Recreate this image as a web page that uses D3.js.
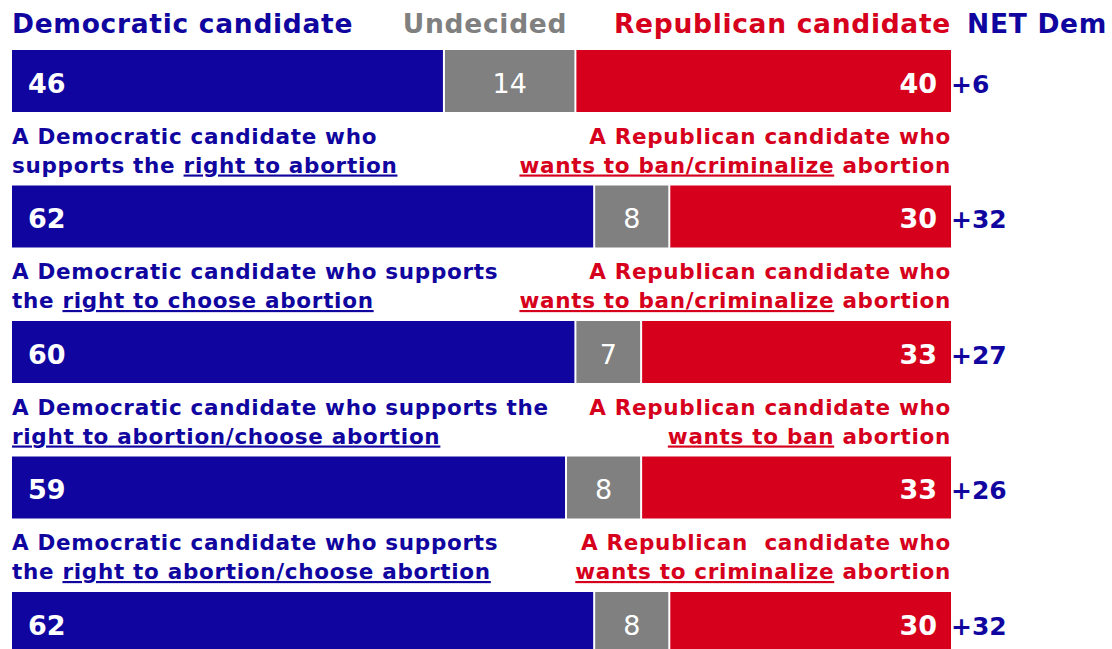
<!DOCTYPE html>
<html>
<head>
<meta charset="utf-8">
<script src="https://cdn.jsdelivr.net/npm/d3@7"></script>
<style>
  body { margin: 0; background: #fff; }
  svg { display: block; font-family: "DejaVu Sans", sans-serif; }
  text { white-space: pre; }
</style>
</head>
<body>
<svg id="chart"></svg>
<script>
const dem = [46, 62, 60, 59, 62];
const undecided = [14, 8, 7, 8, 8];
const rep = [40, 30, 33, 33, 30];
const netDem = [6, 32, 27, 26, 32];

// label lines: each line is a list of [text, underlined]
const demLabels = [
  null,
  [[["A Democratic candidate who", false]],
   [["supports the ", false], ["right to abortion", true]]],
  [[["A Democratic candidate who supports", false]],
   [["the ", false], ["right to choose abortion", true]]],
  [[["A Democratic candidate who supports the", false]],
   [["right to abortion/choose abortion", true]]],
  [[["A Democratic candidate who supports", false]],
   [["the ", false], ["right to abortion/choose abortion", true]]]
];
const repLabels = [
  null,
  [[["A Republican candidate who", false]],
   [["wants to ban/criminalize", true], [" abortion", false]]],
  [[["A Republican candidate who", false]],
   [["wants to ban/criminalize", true], [" abortion", false]]],
  [[["A Republican candidate who", false]],
   [["wants to ban", true], [" abortion", false]]],
  [[["A Republican  candidate who", false]],
   [["wants to criminalize", true], [" abortion", false]]]
];

const width = 1112, height = 649;
const blue = "#10069f", gray = "#808080", red = "#d6001c";

const svg = d3.select("#chart").attr("width", width).attr("height", height);

const x = d3.scaleLinear().domain([0, 100]).range([12, 951]);
const y = d3.scalePoint().domain(d3.range(dem.length)).range([50, 592]);
const barH = 62;

// headers
const head = svg.append("g").attr("font-weight", "bold").attr("font-size", 26.5)
  .attr("letter-spacing", 0.7);
head.append("text").attr("x", x(0)).attr("y", 33).attr("fill", blue).text("Democratic candidate");
head.append("text").attr("x", 485).attr("y", 33).attr("fill", gray)
  .attr("text-anchor", "middle").text("Undecided");
head.append("text").attr("x", x(100)).attr("y", 33).attr("fill", red)
  .attr("text-anchor", "end").text("Republican candidate");
head.append("text").attr("x", x(100) + 16).attr("y", 33).attr("fill", blue).text("NET Dem");

// stacked rows
const rows = dem.map((d, i) => {
  const segs = [
    { k: 0, start: 0, end: d, v: d, color: blue },
    { k: 1, start: d, end: d + undecided[i], v: undecided[i], color: gray },
    { k: 2, start: d + undecided[i], end: 100, v: rep[i], color: red }
  ];
  return { i, segs };
});

const row = svg.append("g").selectAll("g")
  .data(rows)
  .join("g")
  .attr("transform", d => `translate(0,${y(d.i)})`);

row.selectAll("rect")
  .data(d => d.segs)
  .join("rect")
  .attr("x", s => x(s.start) + (s.k > 0 ? 1 : 0))
  .attr("width", s => x(s.end) - x(s.start) - (s.k > 0 ? 1 : 0) - (s.k < 2 ? 1 : 0))
  .attr("y", 0)
  .attr("height", barH)
  .attr("fill", s => s.color);

row.selectAll("text.val")
  .data(d => d.segs)
  .join("text")
  .attr("class", "val")
  .attr("x", s => s.k === 0 ? x(s.start) + 16 : s.k === 1 ? (x(s.start) + x(s.end)) / 2 : x(s.end) - 14)
  .attr("y", barH / 2 + 2)
  .attr("dominant-baseline", "central")
  .attr("text-anchor", s => s.k === 0 ? "start" : s.k === 1 ? "middle" : "end")
  .attr("font-size", 27)
  .attr("font-weight", s => s.k === 1 ? "normal" : "bold")
  .attr("fill", "#fff")
  .text(s => s.v);

row.append("text")
  .attr("x", x(100))
  .attr("y", barH / 2 + 3)
  .attr("dominant-baseline", "central")
  .attr("font-size", 25)
  .attr("font-weight", "bold")
  .attr("fill", blue)
  .text(d => "+" + netDem[d.i]);

// question labels above each bar
function drawLabel(g, lines, xPos, anchor, color) {
  lines.forEach((parts, li) => {
    const t = g.append("text")
      .attr("x", xPos)
      .attr("y", li === 0 ? -42 : -13)
      .attr("text-anchor", anchor)
      .attr("font-size", 21.5)
      .attr("letter-spacing", 0.7)
      .attr("font-weight", "bold")
      .attr("fill", color);
    parts.forEach(([txt, ul]) => {
      t.append("tspan")
        .attr("text-decoration", ul ? "underline" : null)
        .text(txt);
    });
  });
}

row.each(function(d) {
  const g = d3.select(this);
  if (demLabels[d.i]) drawLabel(g, demLabels[d.i], x(0), "start", blue);
  if (repLabels[d.i]) drawLabel(g, repLabels[d.i], x(100), "end", red);
});
</script>
</body>
</html>
